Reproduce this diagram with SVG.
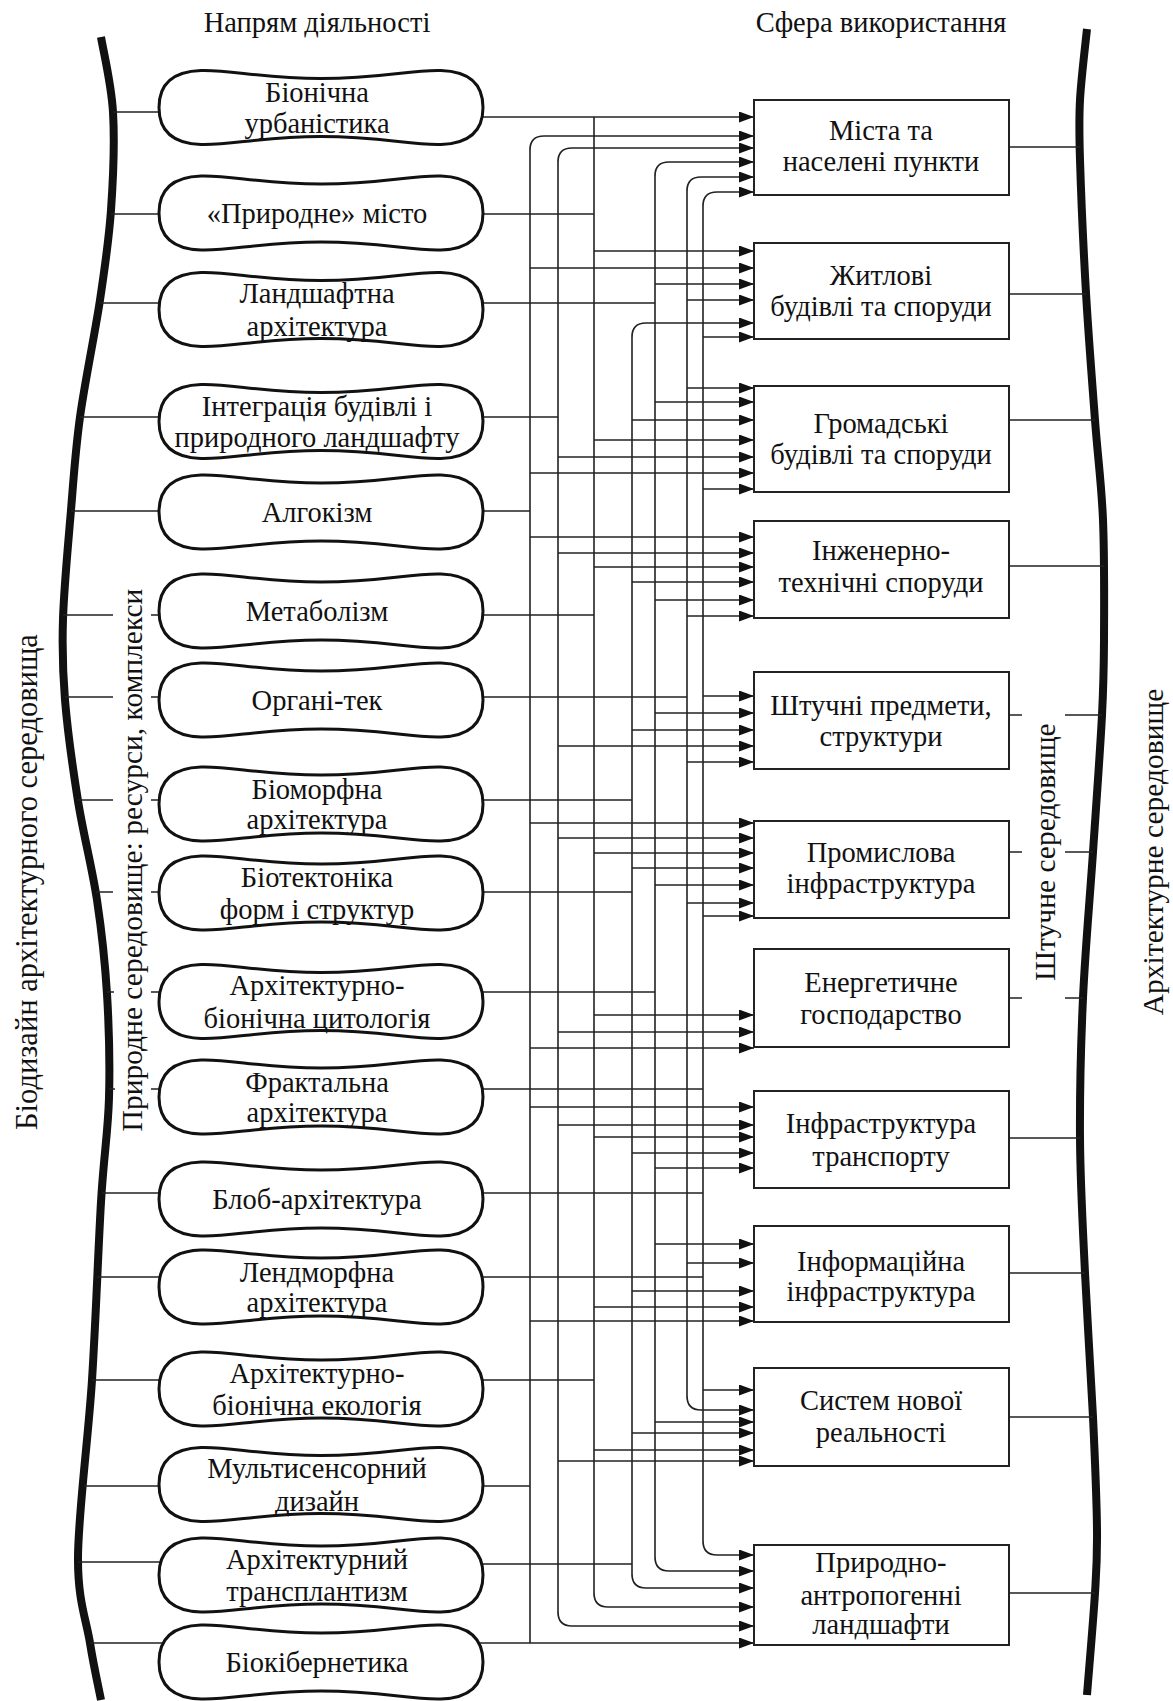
<svg xmlns="http://www.w3.org/2000/svg" xmlns:xlink="http://www.w3.org/1999/xlink" width="1173" height="1701" viewBox="0 0 1173 1701">
<style>
.t{font-family:"Liberation Serif","Times New Roman",serif;font-size:28.5px;fill:#111;text-anchor:middle;dominant-baseline:central}
.v{font-size:29.5px}
.blob{fill:#fff;stroke:#111;stroke-width:3}
.box{fill:#fff;stroke:#222;stroke-width:2}
.c{fill:none;stroke:#222;stroke-width:1.6}
.a{fill:none;stroke:#222;stroke-width:1.7;marker-end:url(#arr)}
.thick{fill:none;stroke:#111;stroke-width:8}
</style>
<defs>
<marker id="arr" viewBox="0 0 15 11" refX="15" refY="5.5" markerWidth="15" markerHeight="11" markerUnits="userSpaceOnUse" orient="auto"><path d="M0,0 L15,5.5 L0,11 z" fill="#111"/></marker>
<path id="blob" d="M-162,0 C-162,-22 -150,-36 -120,-37 C-90,-38 -60,-29 0,-29 C60,-29 90,-38 120,-37 C150,-36 162,-22 162,0 C162,22 150,36 120,37 C90,38 60,29 0,29 C-60,29 -90,38 -120,37 C-150,36 -162,22 -162,0 Z"/>
</defs>
<rect width="1173" height="1701" fill="#fff"/>

<g id="frame">
<path class="thick" d="M101,37 C103,49.5 111.3,83.2 113,112 C114.7,140.8 113.2,178.7 111,210 C108.8,241.3 105.2,265.5 100,300 C94.8,334.5 84.8,382 80,417 C75.2,452 73.8,476.3 71,510 C68.2,543.7 64,587.3 63,619 C62,650.7 62.5,669.7 65,700 C67.5,730.3 72.7,767.7 78,801 C83.3,834.3 92.2,867.8 97,900 C101.8,932.2 105,961 107,994 C109,1027 110,1063.3 109,1098 C108,1132.7 103.8,1155 101,1202 C98.2,1249 95.8,1320.8 92,1380 C88.2,1439.2 78.3,1513.2 78,1557 C77.7,1600.8 86.2,1619.2 90,1643 C93.8,1666.8 99.2,1690.5 101,1700"/>
<path class="thick" d="M1087,29 C1085.8,40.8 1081.2,78.2 1080,100 C1078.8,121.8 1079,127.8 1080,160 C1081,192.2 1083.5,249.7 1086,293 C1088.5,336.3 1092.2,382.2 1095,420 C1097.8,457.8 1101.5,483.3 1103,520 C1104.5,556.7 1104.2,607.5 1104,640 C1103.8,672.5 1103.8,679.7 1102,715 C1100.2,750.3 1096.2,804.8 1093,852 C1089.8,899.2 1085.2,950.3 1083,998 C1080.8,1045.7 1079.7,1092.2 1080,1138 C1080.3,1183.8 1082.8,1226.5 1085,1273 C1087.2,1319.5 1091,1374.2 1093,1417 C1095,1459.8 1096.7,1500.7 1097,1530 C1097.3,1559.3 1096.7,1565.5 1095,1593 C1093.3,1620.5 1088.3,1678 1087,1695"/>
<text class="t" x="317" y="22">Напрям діяльності</text>
<text class="t" x="881" y="22">Сфера використання</text>
<text class="t" style="font-size:30.5px" transform="translate(27,882) rotate(-90)">Біодизайн архітектурного середовища</text>
<text class="t v" transform="translate(132,860) rotate(-90)">Природне середовище: ресурси, комплекси</text>
<text class="t v" transform="translate(1045,852) rotate(-90)">Штучне середовище</text>
<text class="t v" transform="translate(1153,852) rotate(-90)">Архітектурне середовище</text>
</g>

<g id="connectors">
<path class="c" d="M113,112H170 M111,214H170 M100,303H170 M80,417H170 M71,511H170 M63,615H113 M151,615H170 M65,697H113 M151,697H170 M78,800H113 M151,800H170 M96,892H113 M151,892H170 M107,992H114 M151,992H170 M109,1089H115 M151,1089H170 M102,1193H170 M97,1277H170 M92,1380H170 M84,1486H170 M78,1562H170 M90,1643H170"/>
<path class="c" d="M480,214H594 M480,303H655 M480,417H558 M480,511H530 M480,615H594 M480,697H687 M480,800H632 M480,892H632 M480,992H655 M480,1089H703 M480,1193H703 M480,1277H703 M480,1380H594 M480,1486H530 M480,1564H632"/>
<path class="c" d="M530,150V1643 M558,162V1612 M594,117V1593 M632,337V1574 M655,176V1557 M687,191V1396 M703,206V1541"/>
<path class="a" d="M480,117H754"/>
<path class="a" d="M470,1643H754"/>
<path class="a" d="M530,150Q530,136 544,136H754"/>
<path class="a" d="M558,162Q558,148 572,148H754"/>
<path class="a" d="M655,176Q655,162 669,162H754"/>
<path class="a" d="M687,191Q687,177 701,177H754"/>
<path class="a" d="M703,206Q703,192 717,192H754"/>
<path class="a" d="M632,337Q632,323 646,323H754"/>
<path class="a" d="M558,1612Q558,1626 572,1626H754"/>
<path class="a" d="M594,1593Q594,1607 608,1607H754"/>
<path class="a" d="M632,1574Q632,1588 646,1588H754"/>
<path class="a" d="M655,1557Q655,1571 669,1571H754"/>
<path class="a" d="M687,1396Q687,1410 701,1410H754"/>
<path class="a" d="M703,1541Q703,1555 717,1555H754"/>
<path class="a" d="M530,268H754"/><path class="a" d="M530,473H754"/><path class="a" d="M530,537H754"/><path class="a" d="M530,823H754"/><path class="a" d="M530,1048H754"/><path class="a" d="M530,1107H754"/><path class="a" d="M530,1321H754"/>
<path class="a" d="M558,457H754"/><path class="a" d="M558,553H754"/><path class="a" d="M558,746H754"/><path class="a" d="M558,838H754"/><path class="a" d="M558,1032H754"/><path class="a" d="M558,1125H754"/><path class="a" d="M558,1461H754"/>
<path class="a" d="M594,251H754"/><path class="a" d="M594,440H754"/><path class="a" d="M594,567H754"/><path class="a" d="M594,853H754"/><path class="a" d="M594,1015H754"/><path class="a" d="M594,1137H754"/><path class="a" d="M594,1307H754"/><path class="a" d="M594,1450H754"/>
<path class="a" d="M632,420H754"/><path class="a" d="M632,582H754"/><path class="a" d="M632,730H754"/><path class="a" d="M632,868H754"/><path class="a" d="M632,1153H754"/><path class="a" d="M632,1291H754"/><path class="a" d="M632,1433H754"/>
<path class="a" d="M655,284H754"/><path class="a" d="M655,402H754"/><path class="a" d="M655,600H754"/><path class="a" d="M655,713H754"/><path class="a" d="M655,885H754"/><path class="a" d="M655,1168H754"/><path class="a" d="M655,1244H754"/><path class="a" d="M655,1422H754"/>
<path class="a" d="M687,300H754"/><path class="a" d="M687,388H754"/><path class="a" d="M687,616H754"/><path class="a" d="M687,762H754"/><path class="a" d="M687,903H754"/><path class="a" d="M687,1263H754"/>
<path class="a" d="M703,337H754"/><path class="a" d="M703,489H754"/><path class="a" d="M703,696H754"/><path class="a" d="M703,916H754"/><path class="a" d="M703,1390H754"/>
<path class="c" d="M1009,147H1080 M1009,294H1086 M1009,420H1095 M1009,566H1104 M1009,715H1022 M1065,715H1102 M1009,852H1022 M1065,852H1093 M1009,998H1022 M1065,998H1083 M1009,1138H1080 M1009,1273H1085 M1009,1417H1093 M1009,1593H1095"/>
</g>

<g id="node-1"><use href="#blob" class="blob" transform="translate(321,107.5)"/><text class="t" x="317" y="92">Біонічна</text><text class="t" x="317" y="123">урбаністика</text></g>
<g id="node-2"><use href="#blob" class="blob" transform="translate(321,213)"/><text class="t" x="317" y="213">«Природне» місто</text></g>
<g id="node-3"><use href="#blob" class="blob" transform="translate(321,309.5)"/><text class="t" x="317" y="293">Ландшафтна</text><text class="t" x="317" y="326">архітектура</text></g>
<g id="node-4"><use href="#blob" class="blob" transform="translate(321,421.5)"/><text class="t" x="317" y="406">Інтеграція будівлі і</text><text class="t" x="317" y="437">природного ландшафту</text></g>
<g id="node-5"><use href="#blob" class="blob" transform="translate(321,512)"/><text class="t" x="317" y="512">Алгокізм</text></g>
<g id="node-6"><use href="#blob" class="blob" transform="translate(321,611)"/><text class="t" x="317" y="611">Метаболізм</text></g>
<g id="node-7"><use href="#blob" class="blob" transform="translate(321,700)"/><text class="t" x="317" y="700">Органі-тек</text></g>
<g id="node-8"><use href="#blob" class="blob" transform="translate(321,804)"/><text class="t" x="317" y="789">Біоморфна</text><text class="t" x="317" y="819">архітектура</text></g>
<g id="node-9"><use href="#blob" class="blob" transform="translate(321,893)"/><text class="t" x="317" y="877">Біотектоніка</text><text class="t" x="317" y="909">форм і структур</text></g>
<g id="node-10"><use href="#blob" class="blob" transform="translate(321,1001.5)"/><text class="t" x="317" y="985">Архітектурно-</text><text class="t" x="317" y="1018">біонічна цитологія</text></g>
<g id="node-11"><use href="#blob" class="blob" transform="translate(321,1097)"/><text class="t" x="317" y="1082">Фрактальна</text><text class="t" x="317" y="1112">архітектура</text></g>
<g id="node-12"><use href="#blob" class="blob" transform="translate(321,1199)"/><text class="t" x="317" y="1199">Блоб-архітектура</text></g>
<g id="node-13"><use href="#blob" class="blob" transform="translate(321,1287)"/><text class="t" x="317" y="1272">Лендморфна</text><text class="t" x="317" y="1302">архітектура</text></g>
<g id="node-14"><use href="#blob" class="blob" transform="translate(321,1389)"/><text class="t" x="317" y="1373">Архітектурно-</text><text class="t" x="317" y="1405">біонічна екологія</text></g>
<g id="node-15"><use href="#blob" class="blob" transform="translate(321,1484.5)"/><text class="t" x="317" y="1468">Мультисенсорний</text><text class="t" x="317" y="1501">дизайн</text></g>
<g id="node-16"><use href="#blob" class="blob" transform="translate(321,1575)"/><text class="t" x="317" y="1559">Архітектурний</text><text class="t" x="317" y="1591">трансплантизм</text></g>
<g id="node-17"><use href="#blob" class="blob" transform="translate(321,1662)"/><text class="t" x="317" y="1662">Біокібернетика</text></g>

<g id="box-1"><rect class="box" x="754" y="100" width="255" height="95"/><text class="t" x="881" y="130">Міста та</text><text class="t" x="881" y="161">населені пункти</text></g>
<g id="box-2"><rect class="box" x="754" y="243" width="255" height="96"/><text class="t" x="881" y="275">Житлові</text><text class="t" x="881" y="306">будівлі та споруди</text></g>
<g id="box-3"><rect class="box" x="754" y="386" width="255" height="106"/><text class="t" x="881" y="423">Громадські</text><text class="t" x="881" y="454">будівлі та споруди</text></g>
<g id="box-4"><rect class="box" x="754" y="521" width="255" height="97"/><text class="t" x="881" y="550">Інженерно-</text><text class="t" x="881" y="582">технічні споруди</text></g>
<g id="box-5"><rect class="box" x="754" y="672" width="255" height="97"/><text class="t" x="881" y="705">Штучні предмети,</text><text class="t" x="881" y="736">структури</text></g>
<g id="box-6"><rect class="box" x="754" y="821" width="255" height="97"/><text class="t" x="881" y="852">Промислова</text><text class="t" x="881" y="883">інфраструктура</text></g>
<g id="box-7"><rect class="box" x="754" y="949" width="255" height="98"/><text class="t" x="881" y="982">Енергетичне</text><text class="t" x="881" y="1014">господарство</text></g>
<g id="box-8"><rect class="box" x="754" y="1091" width="255" height="97"/><text class="t" x="881" y="1123">Інфраструктура</text><text class="t" x="881" y="1156">транспорту</text></g>
<g id="box-9"><rect class="box" x="754" y="1226" width="255" height="96"/><text class="t" x="881" y="1261">Інформаційна</text><text class="t" x="881" y="1291">інфраструктура</text></g>
<g id="box-10"><rect class="box" x="754" y="1368" width="255" height="98"/><text class="t" x="881" y="1400">Систем нової</text><text class="t" x="881" y="1432">реальності</text></g>
<g id="box-11"><rect class="box" x="754" y="1545" width="255" height="100"/><text class="t" x="881" y="1562">Природно-</text><text class="t" x="881" y="1595">антропогенні</text><text class="t" x="881" y="1624">ландшафти</text></g>
</svg>
